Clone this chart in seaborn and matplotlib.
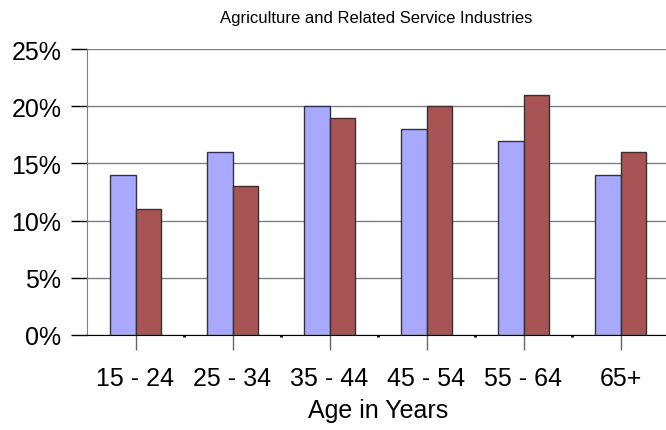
import matplotlib
matplotlib.use("Agg")
import matplotlib.pyplot as plt
import seaborn as sns
import pandas as pd
from matplotlib.ticker import FuncFormatter, FixedLocator

# data
age_groups = ["15 - 24", "25 - 34", "35 - 44", "45 - 54", "55 - 64", "65+"]
series_a = [14, 16, 20, 18, 17, 14]
series_b = [11, 13, 19, 20, 21, 16]

df = pd.DataFrame({
    "age": age_groups * 2,
    "pct": series_a + series_b,
    "series": ["A"] * len(age_groups) + ["B"] * len(age_groups),
})

sns.set_style("white")
plt.rcParams["font.family"] = ["Liberation Sans", "DejaVu Sans"]
plt.rcParams["text.color"] = "black"
plt.rcParams["axes.labelcolor"] = "black"

fig = plt.figure(figsize=(6.66, 4.31), dpi=100)
ax = fig.add_axes([87 / 666, 1 - 336 / 431, 582 / 666, 286 / 431])

sns.barplot(data=df, x="age", y="pct", hue="series", order=age_groups,
            palette=["#A8A8FF", "#A85454"], saturation=1, width=0.52, gap=0,
            edgecolor="#333333", linewidth=1, legend=False, ax=ax, zorder=3)

ax.set_ylim(0, 25)
ax.set_xlim(-0.5, 5.5)
ax.set_yticks(range(0, 26, 5))
ax.yaxis.set_major_formatter(FuncFormatter(lambda v, p: f"{int(v)}%"))
ax.grid(axis="y", color="#808080", linewidth=1, zorder=0)
ax.set_axisbelow(True)

ax.xaxis.set_minor_locator(FixedLocator([i + 0.5 for i in range(0, 5)]))
ax.tick_params(axis="x", which="major", bottom=True, direction="out", length=11,
               width=1, color="#666666", labelsize=18, labelcolor="black", pad=11)
ax.tick_params(axis="x", which="minor", bottom=True, direction="out", length=1.5,
               width=2, color="black")
ax.tick_params(axis="y", left=True, direction="out", length=11.5, width=1,
               color="black", labelsize=18, labelcolor="black", pad=7)

for s in ["top", "right"]:
    ax.spines[s].set_visible(False)
ax.spines["left"].set_color("#808080")
ax.spines["bottom"].set_color("black")

ax.set_xlabel("Age in Years", fontsize=18, labelpad=6)
ax.set_ylabel("")
fig.text(376 / 666, 1 - 18 / 431, "Agriculture and Related Service Industries",
         ha="center", va="center", fontsize=12, color="black")

fig.savefig("out.png", dpi=100)
